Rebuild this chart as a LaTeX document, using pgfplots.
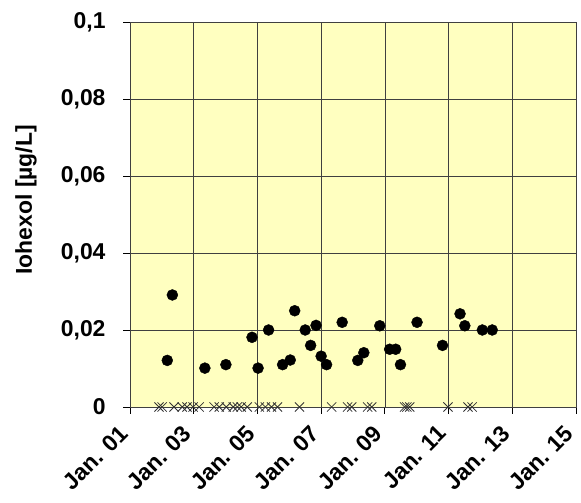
\documentclass[border=0pt]{standalone}
\usepackage{fontspec}
\setmainfont{Liberation Sans}
\usepackage{pgfplots}
\pgfplotsset{compat=1.18}
\definecolor{bgyellow}{RGB}{255,255,192}
\pgfplotstableread{
x y
2002.17 0.0121
2002.33 0.0291
2003.35 0.0101
2004.01 0.0110
2004.83 0.0181
2005.02 0.0101
2005.35 0.0200
2005.79 0.0110
2006.03 0.0122
2006.17 0.0250
2006.50 0.0200
2006.67 0.0160
2006.84 0.0212
2007.00 0.0132
2007.17 0.0110
2007.66 0.0220
2008.15 0.0121
2008.34 0.0141
2008.84 0.0211
2009.15 0.0150
2009.34 0.0150
2009.49 0.0110
2010.01 0.0220
2010.81 0.0160
2011.36 0.0242
2011.51 0.0211
2012.06 0.0200
2012.37 0.0200
}\detected
\pgfplotstableread{
x y
2001.91 0
2002.01 0
2002.38 0
2002.64 0
2002.79 0
2002.98 0
2003.17 0
2003.64 0
2003.80 0
2004.02 0
2004.24 0
2004.37 0
2004.49 0
2004.68 0
2005.06 0
2005.25 0
2005.44 0
2005.63 0
2006.32 0
2007.33 0
2007.83 0
2007.96 0
2008.46 0
2008.59 0
2009.62 0
2009.69 0
2009.78 0
2010.98 0
2011.61 0
2011.74 0
}\notdetected
\begin{document}
\begin{tikzpicture}[x=1bp,y=1bp]
\begin{axis}[
  at={(0,0)}, anchor=south west,
  scale only axis, width=446bp, height=385bp,
  xmin=2001, xmax=2015, ymin=0, ymax=0.1,
  xtick={2001,2003,2005,2007,2009,2011,2013,2015},
  xticklabels={Jan. 01,Jan. 03,Jan. 05,Jan. 07,Jan. 09,Jan. 11,Jan. 13,Jan. 15},
  ytick={0,0.02,0.04,0.06,0.08,0.1},
  yticklabels={0,{0,02},{0,04},{0,06},{0,08},{0,1}},
  tick align=outside, major tick length=7bp,
  xtick pos=bottom, ytick pos=left,
  grid=major, grid style={black!75, line width=0.7bp},
  axis background/.style={fill=bgyellow},
  axis line style={black!75, line width=0.8bp},
  tick style={black, line width=0.8bp},
  ticklabel style={font=\fontsize{23}{27}\selectfont\bfseries},
  yticklabel style={xshift=-14bp},
  xticklabel style={xshift=-4bp, yshift=-13bp, rotate=45, anchor=east},
  ylabel={Iohexol [µg/L]},
  ylabel style={font=\fontsize{23}{27}\selectfont\bfseries, at={(axis description cs:-0.233,0.538)}, anchor=center},
  clip=false,
]
\addplot[only marks, mark=x, mark size=6.5bp, draw=black!80, line width=0.8bp] table {\notdetected};
\addplot[only marks, mark=*, mark size=5.5bp, black] table {\detected};
\end{axis}
\pgfresetboundingbox
\path (-130,-96) rectangle (451,407);
\end{tikzpicture}
\end{document}
